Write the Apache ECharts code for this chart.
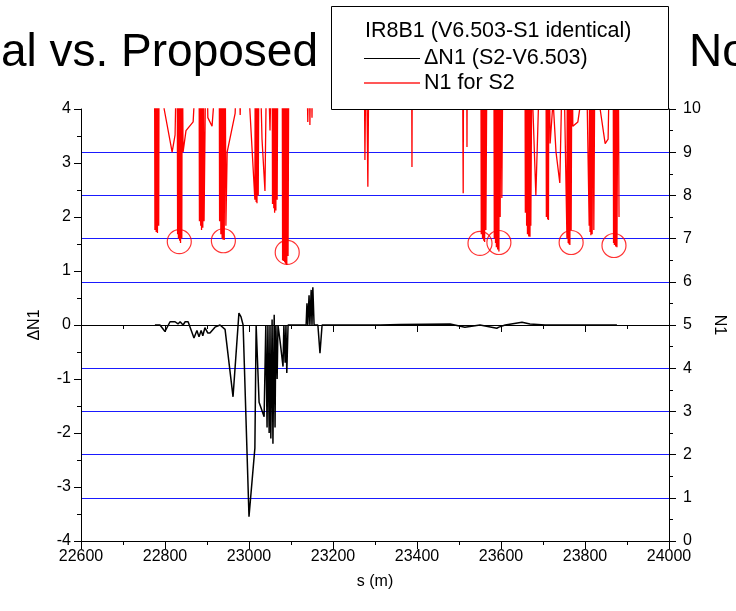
<!DOCTYPE html>
<html>
<head>
<meta charset="utf-8">
<script src="https://cdn.jsdelivr.net/npm/echarts@6/dist/echarts.min.js"></script>
<style>
html,body{margin:0;padding:0;background:#fff;}
#chart{width:736px;height:611px;}
</style>
</head>
<body>
<div id="chart"></div>
<script>
// ---- data ----
const xTicks = [22600, 22800, 23000, 23200, 23400, 23600, 23800, 24000];
const leftTicks = [-4, -3, -2, -1, 0, 1, 2, 3, 4];
const rightTicks = [0, 1, 2, 3, 4, 5, 6, 7, 8, 9, 10];

// N1 for S2 (right axis); values above 10 are off the top of the plot
const n1S = [22775,22776,22778,22779,22781,22782,22783,22785,22786,22788,22798,22817,22824,22829,22830,22831,22832,22833,22835,22836,
  22837,22838,22840,22841,22843,22850,22867,22874,22881,22882,22883,22885,22886,22887,22888,22890,22891,22893,22898,22902,
  22912,22919,22929,22930,22931,22933,22934,22936,22937,22938,22940,22941,22943,22945,22948,22967,22974,22979,22983,23002,
  23014,23015,23017,23018,23019,23021,23022,23024,23031,23038,23043,23050,23055,23056,23057,23059,23060,23061,23062,23064,
  23065,23067,23069,23079,23080,23081,23082,23083,23085,23086,23087,23088,23090,23091,23093,23095,23098,23136,23140,23143,
  23145,23148,23150,23152,23274,23276,23279,23281,23283,23286,23387,23388,23389,23508,23510,23511,23518,23519,23520,23552,
  23553,23555,23556,23557,23559,23560,23561,23562,23564,23567,23583,23584,23586,23587,23588,23589,23590,23592,23593,23595,
  23596,23598,23600,23602,23605,23607,23657,23658,23660,23661,23662,23663,23664,23666,23667,23669,23670,23671,23674,23676,
  23683,23695,23707,23708,23710,23711,23712,23713,23714,23717,23724,23731,23740,23748,23750,23757,23758,23760,23761,23762,
  23763,23764,23766,23767,23769,23771,23783,23795,23802,23810,23811,23812,23813,23814,23816,23817,23819,23821,23824,23836,
  23848,23855,23860,23867,23868,23869,23870,23871,23873,23874,23876,23879,23881];
const n1V = [12,7.2,11,7.15,12,7.13,12,7.3,12,12,10.0,9.0,9.4,12,7.1,12,7.0,12,6.95,12,
  6.9,12,7.0,12,9.0,9.5,9.7,11,12,7.4,12,7.3,12,7.2,12,7.25,12,7.4,12,9.8,
  9.6,10.5,12,7.4,12,7.1,12,7.0,12,6.98,12,6.97,12,7.3,9.0,9.9,12,9.86,12,10.0,
  7.9,12,7.85,12,7.82,12,8.0,12,9.3,8.1,12,9.5,12,7.8,12,7.7,12,7.6,12,7.65,
  12,7.9,12,12,6.5,12,6.48,12,6.45,12,6.42,12,6.39,12,6.6,12,12,12,9.7,12,
  9.63,12,9.8,12,12,8.82,12,12,8.2,12,12,8.66,12,12,8.05,12,12,9.12,12,12,
  7.1,12,7.0,12,6.95,12,6.92,12,7.2,12,12,7.0,12,6.9,12,6.8,12,6.75,12,6.7,
  12,7.5,12,7.94,12,12,12,7.6,12,7.3,12,7.1,12,7.05,12,7.04,12,7.3,12,10.0,
  8.0,12,12,7.5,12,7.45,12,7.43,12,9.2,10.2,9.0,8.29,12,12,7.0,12,6.9,12,6.87,
  12,6.85,12,7.2,12,9.6,9.7,10.5,12,7.3,12,7.15,12,7.08,12,7.1,12,7.2,12,10.0,
  9.2,9.3,12,12,6.9,12,6.85,12,6.82,12,6.8,12,7.5,12];

// ΔN1 (S2-V6.503) (left axis)
const dn1S = [22776,22788,22800,22812,22824,22831,22836,22843,22848,22855,22869,22876,22881,22886,22890,22895,22902,22907,22919,22931,
  22943,22962,22976,22981,22986,23000,23014,23017,23021,23024,23036,23040,23043,23045,23048,23050,23052,23055,23057,23060,
  23062,23064,23067,23069,23074,23081,23083,23086,23088,23090,23093,23136,23138,23140,23143,23145,23148,23150,23152,23155,
  23164,23169,23174,23312,23360,23479,23514,23550,23590,23595,23610,23650,23669,23705,23876];
const dn1V = [0,0,-0.12,0.06,0.06,0.02,0.06,0,0.06,0.06,-0.24,-0.1,-0.22,-0.1,-0.2,-0.05,-0.15,-0.15,-0.04,0,
  -0.08,-1.33,0.22,0.15,0,-3.55,-2.28,0,0,-1.43,-1.7,0,-1.9,0,-2.0,0,-2.1,0.1,-2.2,0.19,
  -1.9,0,-1.0,0,-0.3,-0.77,0,-0.7,0,-0.89,0,0,0.4,0,0.55,0,0.65,0,0.7,0,
  0,-0.52,0,0,0.01,0.02,-0.04,0,-0.06,-0.04,0,0.05,0.02,0,0];

// circled minima of N1 (right axis)
const circleS = [22834, 22939, 23091, 23550, 23595, 23767, 23869];
const circleV = [6.93, 6.95, 6.68, 6.89, 6.91, 6.91, 6.84];

const zip = (a, b) => a.map((v, i) => [v, b[i]]);

const FONT = '"Liberation Sans", Arial, sans-serif';
const chart = echarts.init(document.getElementById('chart'), null, {renderer: 'canvas'});

const axisBase = {
  axisLine: {show: true, lineStyle: {color: '#000', width: 1}},
  axisLabel: {color: '#000', fontSize: 16, fontFamily: FONT},
  splitLine: {show: false}
};

chart.setOption({
  animation: false,
  backgroundColor: '#fff',
  grid: {left: 81, right: 67, top: 109, bottom: 70, containLabel: false},
  xAxis: [
    Object.assign({}, axisBase, {
      type: 'value', min: xTicks[0], max: xTicks[xTicks.length - 1], interval: 200,
      position: 'bottom',
      axisTick: {show: true, inside: false, length: 7, lineStyle: {color: '#000'}},
      minorTick: {show: true, splitNumber: 2, length: 4, lineStyle: {color: '#000'}},
      axisLabel: {color: '#000', fontSize: 16, fontFamily: FONT, margin: 8, formatter: v => String(v)},
      name: 's (m)', nameLocation: 'middle', nameGap: 33,
      nameTextStyle: {color: '#000', fontSize: 16, fontFamily: FONT}
    }),
    Object.assign({}, axisBase, {
      type: 'value', min: xTicks[0], max: xTicks[xTicks.length - 1], interval: 200,
      position: 'top',
      axisTick: {show: true, inside: true, length: 8, lineStyle: {color: '#000'}},
      minorTick: {show: true, splitNumber: 2, length: 4, lineStyle: {color: '#000'}},
      axisLabel: {show: false}
    })
  ],
  yAxis: [
    Object.assign({}, axisBase, {
      type: 'value', min: leftTicks[0], max: leftTicks[leftTicks.length - 1], interval: 1,
      position: 'left',
      axisTick: {show: true, inside: false, length: 7, lineStyle: {color: '#000'}},
      minorTick: {show: true, splitNumber: 2, length: 4, lineStyle: {color: '#000'}},
      axisLabel: {color: '#000', fontSize: 16, fontFamily: FONT, margin: 10},
      name: 'ΔN1', nameLocation: 'middle', nameGap: 38, nameRotate: 90,
      nameTextStyle: {color: '#000', fontSize: 16, fontFamily: FONT}
    }),
    Object.assign({}, axisBase, {
      type: 'value', min: rightTicks[0], max: rightTicks[rightTicks.length - 1], interval: 1,
      position: 'right',
      axisTick: {show: true, inside: false, length: 7, lineStyle: {color: '#000'}},
      minorTick: {show: true, splitNumber: 2, length: 4, lineStyle: {color: '#000'}},
      axisLabel: {color: '#000', fontSize: 16, fontFamily: FONT, margin: 14},
      splitLine: {show: true, showMinLine: false, showMaxLine: false, lineStyle: {color: '#1a1aff', width: 1}},
      name: 'N1', nameLocation: 'middle', nameGap: 42, nameRotate: -90,
      nameTextStyle: {color: '#000', fontSize: 16, fontFamily: FONT}
    })
  ],
  series: [
    {
      name: 'N1 for S2', type: 'line', xAxisIndex: 0, yAxisIndex: 1,
      data: zip(n1S, n1V), showSymbol: false, symbol: 'none', clip: true,
      lineStyle: {color: '#ff0000', width: 1.3}, z: 3, silent: true
    },
    {
      name: 'ΔN1 (S2-V6.503)', type: 'line', xAxisIndex: 0, yAxisIndex: 0,
      data: zip(dn1S, dn1V), showSymbol: false, symbol: 'none', clip: true,
      lineStyle: {color: '#000000', width: 1.5}, z: 4, silent: true
    },
    {
      name: 'circles', type: 'scatter', xAxisIndex: 0, yAxisIndex: 1,
      data: zip(circleS, circleV), symbol: 'circle', symbolSize: 24,
      itemStyle: {color: 'rgba(0,0,0,0)', borderColor: '#ff0000', borderWidth: 1.2},
      z: 5, silent: true
    }
  ],
  graphic: [
    {type: 'text', x: 318, y: 30, style: {text: 'al vs. Proposed', font: '46px ' + FONT, fill: '#000', textAlign: 'right', textVerticalAlign: 'alphabetic'}},
    {type: 'text', x: 689, y: 30, style: {text: 'No', font: '46px ' + FONT, fill: '#000', textAlign: 'left', textVerticalAlign: 'alphabetic'}},
    {type: 'rect', shape: {x: 331.5, y: 6.5, width: 337, height: 103}, style: {fill: '#fff', stroke: '#000', lineWidth: 1}, z: 10},
    {type: 'text', x: 365, y: 31, style: {text: 'IR8B1 (V6.503-S1 identical)', font: '21.5px ' + FONT, fill: '#000', textVerticalAlign: 'middle'}, z: 11},
    {type: 'line', shape: {x1: 364, y1: 58.5, x2: 420, y2: 58.5}, style: {stroke: '#000000', lineWidth: 1}, z: 11},
    {type: 'text', x: 424, y: 58, style: {text: 'ΔN1 (S2-V6.503)', font: '21.5px ' + FONT, fill: '#000', textVerticalAlign: 'middle'}, z: 11},
    {type: 'line', shape: {x1: 364, y1: 83, x2: 420, y2: 83}, style: {stroke: '#ff2020', lineWidth: 1.6}, z: 11},
    {type: 'text', x: 424, y: 83, style: {text: 'N1 for S2', font: '21.5px ' + FONT, fill: '#000', textVerticalAlign: 'middle'}, z: 11}
  ]
});
</script>
</body>
</html>
